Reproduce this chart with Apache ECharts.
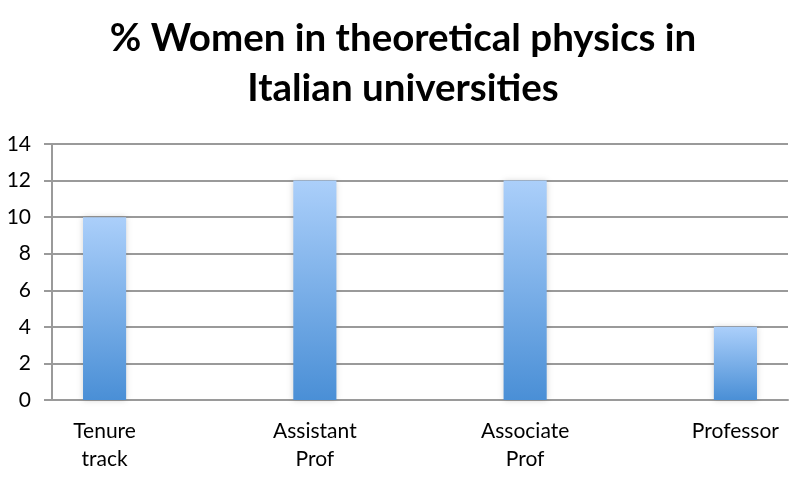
<!DOCTYPE html>
<html>
<head>
<meta charset="utf-8">
<script src="https://cdn.jsdelivr.net/npm/echarts@6/dist/echarts.min.js"></script>
<style>
  html, body { margin: 0; padding: 0; background: #fff; }
  #chart { width: 806px; height: 481px; }
</style>
</head>
<body>
<div id="chart"></div>
<script>
// categories (the chart leaves an empty slot between each pair of bars)
const categories = ['Tenure\ntrack', '', 'Assistant\nProf', '', 'Associate\nProf', '', 'Professor'];
const womenPct = [10, null, 12, null, 12, null, 4];

const chart = echarts.init(document.getElementById('chart'));
const font = 'Lato, "Open Sans", sans-serif';

chart.setOption({
  animation: false,
  title: {
    text: '% Women in theoretical physics in\nItalian universities',
    left: 'center',
    top: 9,
    textStyle: {
      fontFamily: font,
      fontWeight: 'bold',
      fontSize: 38.5,
      lineHeight: 50,
      color: '#000'
    }
  },
  grid: { left: 52, right: 18, top: 144, bottom: 81 },
  xAxis: {
    type: 'category',
    data: categories,
    axisLine: { lineStyle: { color: '#9a9a9a', width: 2 } },
    axisTick: { length: 7, lineStyle: { color: '#9a9a9a', width: 2 } },
    axisLabel: {
      margin: 17,
      fontFamily: font,
      fontSize: 21,
      lineHeight: 28,
      color: '#000',
      interval: 0
    }
  },
  yAxis: {
    type: 'value',
    min: 0,
    max: 14,
    interval: 2,
    axisLine: { show: true, lineStyle: { color: '#9a9a9a', width: 2 } },
    axisTick: { show: true, length: 8, lineStyle: { color: '#9a9a9a', width: 2 } },
    splitLine: { lineStyle: { color: '#9a9a9a', width: 2 } },
    axisLabel: {
      margin: 21,
      fontFamily: font,
      fontSize: 21,
      color: '#000'
    }
  },
  series: [{
    type: 'bar',
    data: womenPct,
    barWidth: '41%',
    itemStyle: {
      color: new echarts.graphic.LinearGradient(0, 0, 0, 1, [
        { offset: 0, color: '#abcffa' },
        { offset: 1, color: '#4a8fd6' }
      ]),
      shadowColor: 'rgba(0,0,0,0.18)',
      shadowBlur: 6
    }
  }]
});
</script>
</body>
</html>
